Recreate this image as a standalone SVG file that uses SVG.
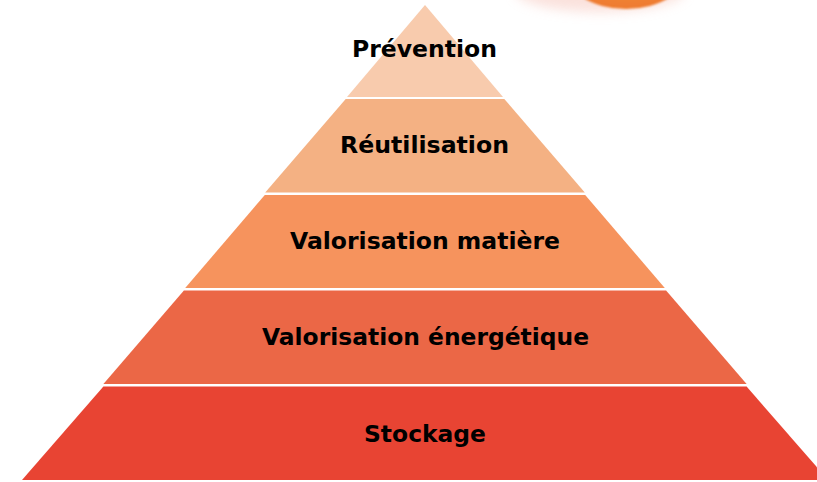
<svg xmlns="http://www.w3.org/2000/svg" width="817" height="482" viewBox="0 0 817 482">
<defs>
<style>
.lbl{font-family:"DejaVu Sans",Verdana,sans-serif;font-weight:bold;font-size:23px;fill:#000;text-anchor:middle;lengthAdjust:spacingAndGlyphs}
</style>
<filter id="blur" x="-50%" y="-50%" width="200%" height="200%"><feGaussianBlur stdDeviation="6"/></filter>
<filter id="soft" x="-20%" y="-20%" width="140%" height="140%"><feGaussianBlur stdDeviation="1.2"/></filter>
<radialGradient id="og" cx="0.5" cy="0.3" r="0.7">
<stop offset="0" stop-color="#F9A050"/>
<stop offset="1" stop-color="#EE7A2E"/>
</radialGradient>
</defs>
<rect width="817" height="482" fill="#fff"/>
<g id="deco">
<ellipse cx="600" cy="-10" rx="85" ry="22" fill="#F7C9C0" opacity="0.55" filter="url(#blur)"/>
<ellipse cx="626" cy="-31" rx="62" ry="40" fill="url(#og)" filter="url(#soft)"/>
</g>
<g id="connectors"></g>
<g id="stockage">
<polygon points="103.4,386.5 746.6,386.5 828,480 22,480" fill="#E84433"/>
<text class="lbl" x="425" y="442" textLength="122" lengthAdjust="spacingAndGlyphs">Stockage</text>
</g>
<g id="energetique">
<polygon points="183.9,290.5 666.1,290.5 746.6,384 103.4,384" fill="#EB6746"/>
<text class="lbl" x="425.5" y="345" textLength="327" lengthAdjust="spacingAndGlyphs">Valorisation énergétique</text>
</g>
<g id="matiere">
<polygon points="264.8,195 585.2,195 664.8,288 185.2,288" fill="#F6935D"/>
<text class="lbl" x="425" y="249" textLength="270" lengthAdjust="spacingAndGlyphs">Valorisation matière</text>
</g>
<g id="reutilisation">
<polygon points="345.7,99 504.3,99 584.8,192.5 265.2,192.5" fill="#F4B183"/>
<text class="lbl" x="424.5" y="153" textLength="169" lengthAdjust="spacingAndGlyphs">Réutilisation</text>
</g>
<g id="prevention">
<polygon points="425,5 503,97 347,97" fill="#F8CBAD"/>
<text class="lbl" x="424.5" y="57" textLength="145" lengthAdjust="spacingAndGlyphs">Prévention</text>
</g>
</svg>
